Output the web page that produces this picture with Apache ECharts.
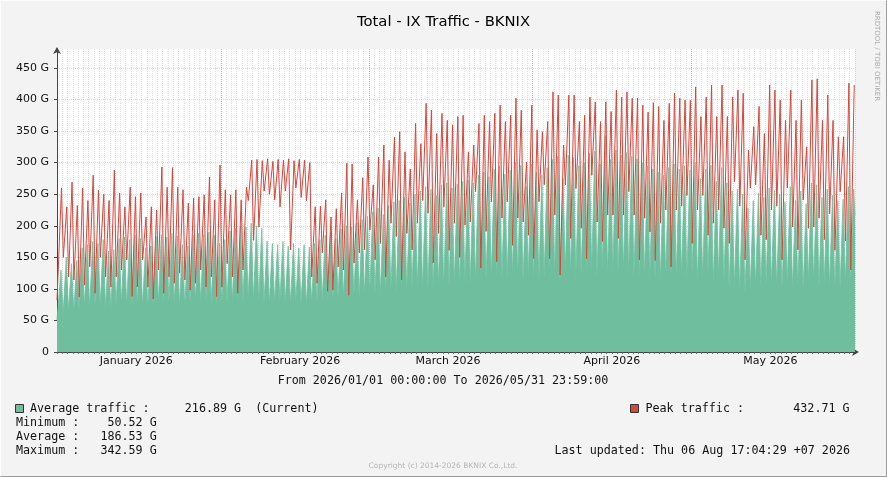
<!DOCTYPE html>
<html><head><meta charset="utf-8">
<script src="https://cdn.jsdelivr.net/npm/echarts@6/dist/echarts.min.js"></script>
<style>
html,body{margin:0;padding:0;background:#f3f3f3;}
#wrap{position:relative;width:887px;height:477px;}
#chart{width:887px;height:477px;}
#frame{position:absolute;left:0;top:0;width:887px;height:477px;box-sizing:border-box;border-right:1px solid #9c9c9c;border-bottom:1px solid #9c9c9c;border-top:1px solid #fdfdfd;border-left:1px solid #fdfdfd;pointer-events:none;}
</style></head>
<body><div id="wrap"><div id="chart"></div><div id="frame"></div></div>
<script>
// ---- data ----
const monthNames = ['January', 'February', 'March', 'April', 'May'];
const yTickValues = [0, 50, 100, 150, 200, 250, 300, 350, 400, 450];

// daily high / low of the average traffic (G)
const avgHigh = [
  130,150,140,145,165,170,175,172,178,160,162,180,182,178,185,180,165,168,183,186,182,188,184,170,168,185,188,186,190,185,172,
  178,192,196,200,198,204,200,196,176,172,170,175,168,172,165,170,166,
  172,178,185,190,180,195,200,198,205,210,215,222,228,218,232,238,240,245,236,250,255,262,258,248,265,268,260,266,270,
  272,268,280,285,278,290,295,282,288,300,296,262,298,285,280,292,305,310,275,312,308,295,300,315,318,298,342.59,305,320,312,316,310,306,300,
  295,290,285,280,292,298,290,295,288,300,275,290,296,270,292,268,255,258,250,228,240,252,245,260,256,250,238,262,240,255,235,268,265,245,258,248,240,242,262,258
];
const avgLow = [
  50.52,62,66,64,68,72,70,74,72,70,68,73,76,74,75,77,72,70,76,78,77,79,76,74,72,78,80,79,81,78,75,
  76,78,80,82,80,84,82,80,78,76,78,80,77,76,78,75,74,
  78,80,82,84,80,85,86,84,88,86,90,
  92,94,90,96,98,95,100,97,102,104,100,98,105,106,102,104,108,110,
  110,108,112,115,112,118,120,114,116,122,118,108,120,116,112,118,124,122,110,125,124,118,120,126,128,118,130,122,126,124,127,122,120,118,
  120,118,115,112,120,122,118,120,116,124,110,118,122,108,120,106,100,104,98,95,100,104,102,108,106,104,98,110,100,104,96,112,110,102,108,104,100,102,110,108
];
// daily high / low of the peak traffic (G)
const peakHigh = [
  260,230,269,232,260,240,280,256,250,240,288,252,230,261,246,252,214,230,225,293,261,292,261,257,236,244,246,249,277,241,296,257,249,257,241,261,
  304,305,303,306,302,305,304,306,303,305,304,300,
  230,231,241,214,227,252,299,298,241,276,309,265,309,328,304,340,349,317,290,362,330,394,383,346,378,367,360,373,
  375,317,328,362,375,365,378,391,365,375,402,383,301,391,352,349,365,412,407,328,407,407,365,375,404,396,365,396,381,415,404,412,402,402,391,
  380,395,
  389,367,394,410,402,399,399,420,373,404,423,373,423,373,404,415,410,320,357,389,346,423,415,399,367,415,367,399,325,431,432.71,367,407,367,341,341,426,423
];
const peakLow = [
  82,150,119,114,87,106,135,93,150,119,103,119,130,146,88,103,146,103,84,130,93,119,109,125,114,98,109,130,103,119,88,103,140,119,93,130,
  240,177,198,255,250,241,230,255,162,260,245,240,
  119,109,157,96,98,135,130,90,141,157,162,193,146,172,119,204,183,114,188,162,204,240,220,141,188,230,161,204,
  150,
  201,206,254,133,191,238,143,212,238,169,212,206,185,148,238,265,148,217,122,265,180,259,196,148,280,206,175,217,217,180,217,254,217,146,212,190,
  145,204,225,135,225,231,248,172,225,248,185,204,225,196,172,270,231,146,260,265,185,178,225,231,146,260,198,162,241,196,198,212,178,219,161,254,176,130
];
const avgCurrent = 216.89;
const avgMin = 50.52;
const avgMean = 186.53;
const avgMax = 342.59;
const peakMax = 432.71;

// ---- build (x in days since 2026-01-01 00:00) ----
const DAY = 86400000;
const T0 = Date.UTC(2026, 0, 1);
const nDays = avgHigh.length;
const avgData = [[0, avgLow[0]]];
const peakData = [[0, peakLow[0]]];
for (let d = 0; d < nDays; d++) {
  avgData.push([d + 0.17, avgLow[d]]);
  avgData.push([d + 0.75, avgHigh[d]]);
  avgData.push([d + 0.875, avgHigh[d]]);
  peakData.push([d + 0.2, peakLow[d]]);
  peakData.push([d + 0.85, peakHigh[d]]);
}
avgData.push([nDays, avgCurrent]);

const monthStarts = [];
const monthMids = [];
for (let m = 0; m <= monthNames.length; m++) monthStarts.push((Date.UTC(2026, m, 1) - T0) / DAY);
for (let m = 0; m < monthNames.length; m++) monthMids.push((Date.UTC(2026, m, 16) - T0) / DAY);

const GREEN = '#6fbf9f';
const RED = '#d9463a';
const MONO = '11.7px "DejaVu Sans Mono"';
const SANS = 'DejaVu Sans';
const majorColor = '#eaa0a0';
const minorColor = 'rgba(170,170,170,0.4)';
const hColors = [majorColor];
for (let i = 1; i < 10; i++) hColors.push(minorColor);

const chart = echarts.init(document.getElementById('chart'), null, { renderer: 'canvas' });
chart.setOption({
  animation: false,
  backgroundColor: '#f3f3f3',
  title: {
    text: 'Total - IX Traffic - BKNIX', left: 'center', top: 15, padding: 0,
    textStyle: { fontFamily: SANS, fontSize: 14.8, fontWeight: 'normal', color: '#000' }
  },
  grid: { left: 57, right: 32, top: 49, bottom: 125, show: true, backgroundColor: '#ffffff', borderWidth: 0, containLabel: false, outerBoundsMode: 'none' },
  xAxis: [
    {
      type: 'value', position: 'bottom', min: 0, max: nDays, interval: 1,
      axisLine: { show: true, lineStyle: { color: '#444', width: 1 }, symbol: ['none', 'arrow'], symbolSize: [6, 7], symbolOffset: [0, 4] },
      axisTick: { show: true, length: 2, lineStyle: { color: '#666' } },
      axisLabel: { show: false },
      splitLine: { show: true, lineStyle: { type: 'dotted', color: minorColor, width: 1 } }
    },
    {
      type: 'value', position: 'bottom', min: 0, max: nDays,
      axisLine: { show: false },
      axisTick: { show: false, customValues: monthStarts },
      axisLabel: {
        customValues: monthMids, margin: 4, hideOverlap: false,
        fontFamily: SANS, fontSize: 11, color: '#111',
        formatter: function (v) {
          const i = monthMids.indexOf(v);
          return i < 0 ? '' : monthNames[i] + ' 2026';
        }
      },
      splitLine: { show: true, showMinLine: false, showMaxLine: false, lineStyle: { type: 'dotted', color: majorColor, width: 1 } }
    }
  ],
  yAxis: {
    type: 'value', min: 0, max: 480, interval: 5,
    axisLine: { show: true, lineStyle: { color: '#444', width: 1 }, symbol: ['none', 'arrow'], symbolSize: [6, 7], symbolOffset: [0, 2] },
    axisTick: { show: true, customValues: yTickValues, length: 3, lineStyle: { color: '#444' } },
    axisLabel: {
      customValues: yTickValues, margin: 8, fontFamily: SANS, fontSize: 11, color: '#111',
      formatter: function (v) { if (v % 50 !== 0) return ''; return v === 0 ? '0' : v + ' G'; }
    },
    splitLine: { show: true, lineStyle: { type: 'dotted', color: hColors, width: 1 } }
  },
  series: [
    {
      type: 'line', name: 'Average traffic', xAxisIndex: 0, yAxisIndex: 0, data: avgData,
      symbol: 'none', showSymbol: false, z: 2,
      lineStyle: { width: 0.8, color: GREEN }, itemStyle: { color: GREEN },
      areaStyle: { color: GREEN, opacity: 1 }
    },
    {
      type: 'line', name: 'Peak traffic', xAxisIndex: 0, yAxisIndex: 0, data: peakData,
      symbol: 'none', showSymbol: false, z: 3,
      lineStyle: { width: 1, color: RED }, itemStyle: { color: RED }
    }
  ],
  graphic: [
    { type: 'text', silent: true, style: { text: 'From 2026/01/01 00:00:00 To 2026/05/31 23:59:00', x: 443, y: 381, align: 'center', verticalAlign: 'middle', font: MONO, fill: '#111' } },
    { type: 'rect', silent: true, shape: { x: 15.5, y: 404.5, width: 8, height: 8 }, style: { fill: GREEN, stroke: '#333', lineWidth: 1 } },
    { type: 'text', silent: true, style: { text: 'Average traffic : ' + avgCurrent.toFixed(2).padStart(10) + ' G  (Current)', x: 30, y: 409, verticalAlign: 'middle', font: MONO, fill: '#111' } },
    { type: 'rect', silent: true, shape: { x: 630.5, y: 404.5, width: 8, height: 8 }, style: { fill: RED, stroke: '#333', lineWidth: 1 } },
    { type: 'text', silent: true, style: { text: 'Peak traffic : ' + peakMax.toFixed(2).padStart(12) + ' G', x: 645.5, y: 409, verticalAlign: 'middle', font: MONO, fill: '#111' } },
    { type: 'text', silent: true, style: { text: 'Minimum : ' + avgMin.toFixed(2).padStart(8) + ' G', x: 16, y: 423, verticalAlign: 'middle', font: MONO, fill: '#111' } },
    { type: 'text', silent: true, style: { text: 'Average : ' + avgMean.toFixed(2).padStart(8) + ' G', x: 16, y: 437, verticalAlign: 'middle', font: MONO, fill: '#111' } },
    { type: 'text', silent: true, style: { text: 'Maximum : ' + avgMax.toFixed(2).padStart(8) + ' G', x: 16, y: 451, verticalAlign: 'middle', font: MONO, fill: '#111' } },
    { type: 'text', silent: true, style: { text: 'Last updated: Thu 06 Aug 17:04:29 +07 2026', x: 850, y: 451, align: 'right', verticalAlign: 'middle', font: MONO, fill: '#111' } },
    { type: 'text', silent: true, style: { text: 'Copyright (c) 2014-2026 BKNIX Co.,Ltd.', x: 443, y: 466, align: 'center', verticalAlign: 'middle', font: '7.5px "DejaVu Sans"', fill: '#b4b4b4' } },
    { type: 'text', silent: true, x: 877, y: 56, rotation: -Math.PI / 2, style: { text: 'RRDTOOL / TOBI OETIKER', x: 0, y: 0, align: 'center', verticalAlign: 'middle', font: '7px "DejaVu Sans"', fill: '#ababab' } }
  ]
});
</script>
</body></html>
